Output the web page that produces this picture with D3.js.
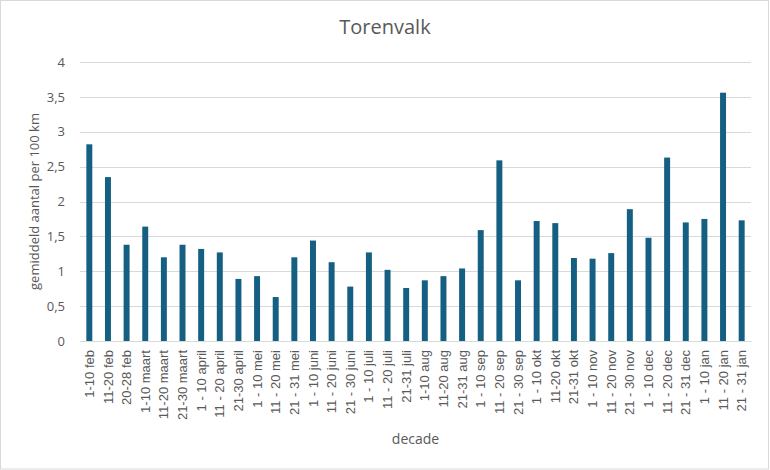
<!DOCTYPE html>
<html>
<head>
<meta charset="utf-8">
<title>Torenvalk</title>
<script src="https://d3js.org/d3.v7.min.js"></script>
<style>
  body { margin: 0; background: #fff; font-family: "Open Sans", "Noto Sans", sans-serif; }
  svg text { fill: #595959; }
</style>
</head>
<body>
<svg id="chart" width="770" height="470"></svg>
<script>
// decades (x categories)
const decades = [
  "1-10 feb", "11-20 feb", "20-28 feb",
  "1-10 maart", "11-20 maart", "21-30 maart",
  "1 - 10 april", "11 - 20 april", "21-30 april",
  "1 - 10 mei", "11 - 20 mei", "21 - 31 mei",
  "1 - 10 juni", "11 - 20 juni", "21 - 30 juni",
  "1 - 10 juli", "11 - 20 juli", "21-31 juli",
  "1-10 aug", "11-20 aug", "21-31 aug",
  "1 - 10 sep", "11 - 20 sep", "21 - 30 sep",
  "1 - 10 okt", "11-20 okt", "21-31 okt",
  "1 - 10 nov", "11 - 20 nov", "21 - 30 nov",
  "1 - 10 dec", "11 - 20 dec", "21 - 31 dec",
  "1 - 10 jan", "11 - 20 jan", "21 - 31 jan"
];

// gemiddeld aantal per 100 km
const aantallen = [
  2.82, 2.35, 1.38,
  1.64, 1.20, 1.38,
  1.32, 1.27, 0.89,
  0.93, 0.63, 1.20,
  1.44, 1.13, 0.78,
  1.27, 1.02, 0.76,
  0.87, 0.93, 1.04,
  1.59, 2.59, 0.87,
  1.72, 1.69, 1.19,
  1.18, 1.26, 1.89,
  1.48, 2.63, 1.70,
  1.75, 3.56, 1.73
];

const yTicks = [0, 0.5, 1, 1.5, 2, 2.5, 3, 3.5, 4];

const W = 770, H = 470;
const margin = { top: 62, right: 19, bottom: 129, left: 80 };

const svg = d3.select("#chart");

// chart border
svg.append("rect")
  .attr("x", 0.5).attr("y", 0.5)
  .attr("width", W - 2).attr("height", H - 1.5)
  .attr("fill", "#fff")
  .attr("stroke", "#d9d9d9");

const x = d3.scaleBand()
  .domain(decades)
  .range([margin.left, W - margin.right])
  .paddingInner(0.68)
  .paddingOuter(0.34);

const y = d3.scaleLinear()
  .domain([0, 4])
  .range([H - margin.bottom, margin.top]);

// gridlines
svg.append("g")
  .selectAll("line")
  .data(yTicks)
  .join("line")
  .attr("x1", margin.left)
  .attr("x2", W - margin.right)
  .attr("y1", d => Math.round(y(d)) + 0.5)
  .attr("y2", d => Math.round(y(d)) + 0.5)
  .attr("stroke", "#d9d9d9")
  .attr("stroke-width", 1);

// bars
svg.append("g")
  .selectAll("rect")
  .data(aantallen)
  .join("rect")
  .attr("x", (d, i) => x(decades[i]))
  .attr("y", d => y(d))
  .attr("width", x.bandwidth())
  .attr("height", d => y(0) - y(d))
  .attr("fill", "#156082");

// y axis
const yAxis = svg.append("g")
  .attr("transform", `translate(${margin.left},0)`)
  .call(d3.axisLeft(y).tickValues(yTicks).tickSize(0).tickPadding(15)
    .tickFormat(d => String(d).replace(".", ",")));
yAxis.select(".domain").remove();
yAxis.selectAll("text").attr("font-size", 13).attr("font-family", "Open Sans, sans-serif");

// x axis
const xAxis = svg.append("g")
  .attr("transform", `translate(0,${H - margin.bottom})`)
  .call(d3.axisBottom(x).tickSize(0).tickPadding(0));
xAxis.select(".domain").attr("stroke", "#d9d9d9");
xAxis.selectAll("text")
  .attr("font-size", 13)
  .attr("font-family", "Liberation Sans, Arial, sans-serif")
  .attr("transform", "rotate(-90)")
  .attr("text-anchor", "end")
  .attr("x", -9)
  .attr("y", 0)
  .attr("dy", "0.35em");

// title
svg.append("text")
  .attr("x", 385).attr("y", 34)
  .attr("text-anchor", "middle")
  .attr("font-size", 20)
  .text("Torenvalk");

// axis titles
svg.append("text")
  .attr("x", (margin.left + W - margin.right) / 2)
  .attr("y", 444)
  .attr("text-anchor", "middle")
  .attr("font-size", 14)
  .text("decade");

svg.append("text")
  .attr("transform", `translate(39,${(y(0) + y(4)) / 2}) rotate(-90)`)
  .attr("text-anchor", "middle")
  .attr("font-size", 13)
  .text("gemiddeld aantal per 100 km");
</script>
</body>
</html>
